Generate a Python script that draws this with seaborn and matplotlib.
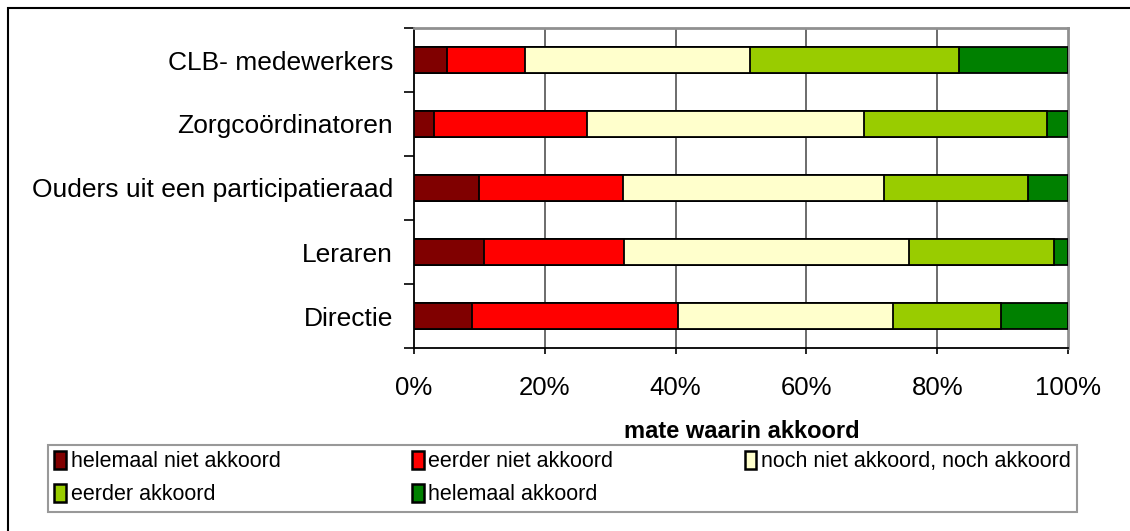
import numpy as np
import pandas as pd
import matplotlib
matplotlib.use("Agg")
import matplotlib.pyplot as plt
from matplotlib.patches import Patch, Rectangle
import seaborn as sns

# chart data (percentages per group)
groups = ["CLB- medewerkers", "Zorgcoördinatoren", "Ouders uit een participatieraad",
          "Leraren", "Directie"]
levels = ["helemaal niet akkoord", "eerder niet akkoord", "noch niet akkoord, noch akkoord",
          "eerder akkoord", "helemaal akkoord"]
helemaal_niet = [5.1, 3.0, 9.9, 10.7, 8.9]
eerder_niet = [11.9, 23.5, 22.1, 21.4, 31.5]
noch_noch = [34.3, 42.3, 39.9, 43.6, 32.9]
eerder_akkoord = [32.1, 28.0, 22.0, 22.2, 16.5]
helemaal_akkoord = [16.6, 3.2, 6.1, 2.1, 10.2]
xticks = [0, 20, 40, 60, 80, 100]
xtick_labels = ["0%", "20%", "40%", "60%", "80%", "100%"]
x_title = "mate waarin akkoord"
colors = ["#800000", "#FF0000", "#FFFFCC", "#99CC00", "#008000"]

sns.set_style("white")
plt.rcParams["font.family"] = ["Liberation Sans", "DejaVu Sans"]
plt.rcParams["text.color"] = "black"
plt.rcParams["xtick.color"] = "black"
plt.rcParams["ytick.color"] = "black"

series = [helemaal_niet, eerder_niet, noch_noch, eerder_akkoord, helemaal_akkoord]
df = pd.DataFrame({lvl: vals for lvl, vals in zip(levels, series)}, index=groups)
cum = df.cumsum(axis=1)

fig = plt.figure(figsize=(11.3, 5.31), dpi=100)
ax = fig.add_axes([414 / 1130, 1 - 348 / 531, 654 / 1130, 320 / 531])

# stacked bars: draw cumulative totals from the widest down
for lvl, col in reversed(list(zip(levels, colors))):
    plot_df = pd.DataFrame({"group": groups, "value": cum[lvl].values})
    sns.barplot(data=plot_df, x="value", y="group", color=col, width=0.41,
                edgecolor="black", linewidth=1.3, saturation=1, ax=ax, zorder=3)

ax.set_xlim(0, 100)
ax.set_ylim(4.5, -0.5)
ax.set_xlabel("")
ax.set_ylabel("")

ax.set_xticks(xticks)
ax.set_xticklabels(xtick_labels, fontsize=18.5)
ax.tick_params(axis="x", bottom=True, direction="out", length=4, width=1.2, pad=16,
               color="black", labelcolor="black")
ax.tick_params(axis="y", which="major", length=0, pad=15, labelsize=19,
               labelcolor="black")
ax.set_yticks(np.arange(-0.5, 5, 1), minor=True)
ax.tick_params(axis="y", which="minor", left=True, direction="out", length=7,
               width=1.2, color="black")

for x in xticks[1:-1]:
    ax.axvline(x, color="#444444", lw=1.1, zorder=1)

ax.spines["left"].set_color("black")
ax.spines["bottom"].set_color("black")
ax.spines["left"].set_linewidth(1.3)
ax.spines["bottom"].set_linewidth(1.3)
ax.spines["top"].set_color("#909090")
ax.spines["right"].set_color("#909090")
ax.spines["top"].set_linewidth(2)
ax.spines["right"].set_linewidth(2)

fig.text(742 / 1130, 1 - 432 / 531, x_title, fontsize=17, fontweight="bold",
         ha="center", va="center", color="black")

handles = [Patch(facecolor=c, edgecolor="black", linewidth=1.8, label=l)
           for c, l in zip(colors, levels)]
order = [0, 3, 1, 4, 2]
leg = fig.legend([handles[i] for i in order], [levels[i] for i in order], ncol=3,
                 loc="upper left", mode="expand",
                 bbox_to_anchor=(48 / 1130, 1 - 512 / 531, 1029 / 1130, 67 / 531),
                 fontsize=15.5, frameon=True, fancybox=False, handlelength=0.55,
                 handleheight=0.85, handletextpad=0.2, borderpad=0.3,
                 labelspacing=0.55, borderaxespad=0, labelcolor="black")
leg.get_frame().set_edgecolor("#808080")
leg.get_frame().set_linewidth(1.5)

# outer chart border
fig.patches.append(Rectangle((7.5 / 1130, -0.05), 1.2, 1 - 7.5 / 531 + 0.05,
                             transform=fig.transFigure, fill=False,
                             edgecolor="black", linewidth=1.5))

fig.savefig("out.png", dpi=100)
